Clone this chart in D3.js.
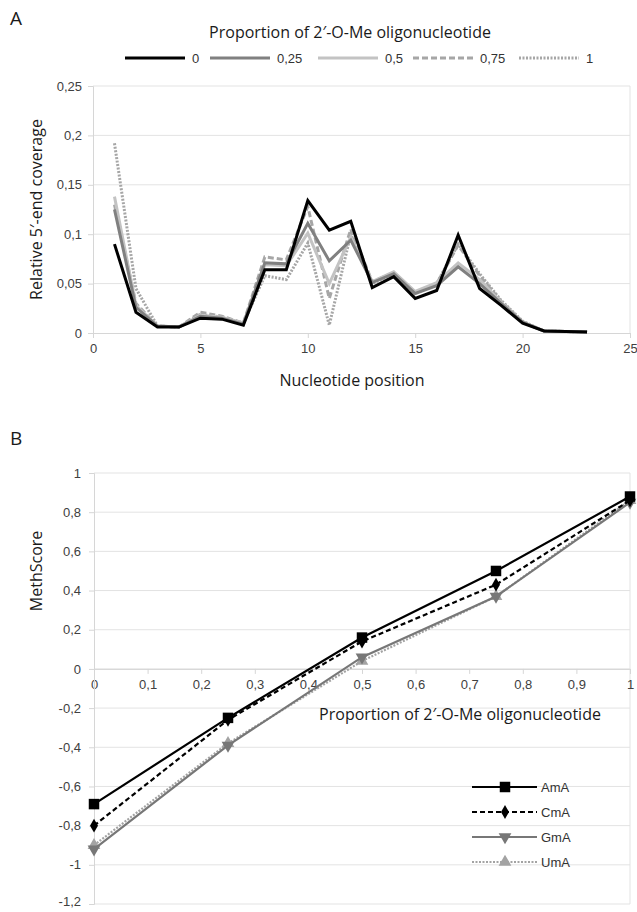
<!DOCTYPE html>
<html>
<head>
<meta charset="utf-8" />
<title>Coverage and MethScore</title>
<style>
body { margin: 0; background: #fff; }
.tick text { font-family: "Liberation Sans", Arial, sans-serif; font-size: 13px; fill: #404040; }
.title { font-family: "Open Sans", sans-serif; font-size: 16px; fill: #1a1a1a; }
.panel { font-family: "Open Sans", sans-serif; font-size: 19px; fill: #1a1a1a; }
.leg { font-family: "Liberation Sans", Arial, sans-serif; font-size: 13px; fill: #333; }
</style>
</head>
<body>
<div id="chart"></div>
<script src="https://d3js.org/d3.v7.min.js"></script>
<script>
(function(d3) {
'use strict';
// panel A: nucleotide positions and coverage per 2'-O-Me proportion
var positions = d3.range(1, 24);
var proportions = ['0', '0,25', '0,5', '0,75', '1'];
var cov0   = [0.090,0.021,0.006,0.006,0.015,0.014,0.008,0.064,0.064,0.134,0.104,0.113,0.046,0.057,0.035,0.043,0.099,0.045,0.028,0.010,0.002,0.0015,0.001];
var cov025 = [0.125,0.026,0.007,0.006,0.017,0.015,0.009,0.071,0.070,0.111,0.073,0.094,0.051,0.060,0.040,0.048,0.067,0.050,0.030,0.011,0.002,0.0015,0.001];
var cov05  = [0.138,0.028,0.007,0.006,0.018,0.016,0.010,0.069,0.068,0.101,0.050,0.097,0.052,0.062,0.042,0.051,0.071,0.054,0.031,0.011,0.002,0.0015,0.001];
var cov075 = [0.130,0.030,0.007,0.006,0.021,0.017,0.010,0.077,0.074,0.128,0.035,0.105,0.052,0.061,0.041,0.050,0.089,0.058,0.032,0.011,0.002,0.0015,0.001];
var cov1   = [0.192,0.045,0.007,0.006,0.019,0.016,0.010,0.058,0.054,0.091,0.008,0.100,0.050,0.060,0.040,0.050,0.090,0.060,0.033,0.012,0.002,0.0015,0.001];
var xTicksA = [0, 5, 10, 15, 20, 25];
var yTicksA = [0, 0.05, 0.1, 0.15, 0.2, 0.25];

// panel B: MethScore vs proportion
var propB = [0, 0.25, 0.5, 0.75, 1];
var seriesB = ['AmA', 'CmA', 'GmA', 'UmA'];
var amA = [-0.69, -0.25, 0.16, 0.50, 0.88];
var cmA = [-0.80, -0.26, 0.14, 0.43, 0.86];
var gmA = [-0.92, -0.39, 0.06, 0.37, 0.85];
var umA = [-0.90, -0.38, 0.04, 0.37, 0.86];
var xTicksB = d3.range(0, 11).map(function(i) { return i / 10; });
var yTicksB = d3.range(-6, 6).map(function(i) { return i / 5; });

var fmt = function(d) { return String(+d.toFixed(2)).replace('.', ','); };

var width = 637, height = 912;
var svg = d3.select('#chart').append('svg')
  .attr('width', width).attr('height', height);

// ---------- panel A ----------
var xA = d3.scaleLinear().domain([0, 25]).range([93, 630]);
var yA = d3.scaleLinear().domain([0, 0.25]).range([333, 86]);

svg.append('text').attr('class', 'panel').attr('x', 10).attr('y', 25).text('A');

var gA = svg.append('g');
gA.selectAll('line.grid').data(yTicksA.slice(1)).enter().append('line')
  .attr('x1', xA(0)).attr('x2', xA(25))
  .attr('y1', function(d) { return yA(d); }).attr('y2', function(d) { return yA(d); })
  .attr('stroke', '#e3e3e3');
gA.append('line').attr('x1', xA(25)).attr('x2', xA(25))
  .attr('y1', yA(0)).attr('y2', yA(0.25)).attr('stroke', '#e3e3e3');

var axA = gA.append('g').attr('transform', 'translate(0,' + yA(0) + ')')
  .call(d3.axisBottom(xA).tickValues(xTicksA).tickFormat(fmt).tickSize(5).tickPadding(6));
var ayA = gA.append('g').attr('transform', 'translate(' + xA(0) + ',0)')
  .call(d3.axisLeft(yA).tickValues(yTicksA).tickFormat(fmt).tickSize(5).tickPadding(6));
[axA, ayA].forEach(function(a) {
  a.select('.domain').attr('stroke', '#d6d6d6');
  a.selectAll('.tick line').attr('stroke', '#d6d6d6');
});

var covA = [cov0, cov025, cov05, cov075, cov1];
var styleA = [
  { color: '#000000', dash: null, w: 3 },
  { color: '#808080', dash: null, w: 3 },
  { color: '#c3c3c3', dash: null, w: 3 },
  { color: '#a6a6a6', dash: '6,3', w: 3 },
  { color: '#a6a6a6', dash: '2,1.5', w: 3 }
];
var lineA = d3.line()
  .x(function(d, i) { return xA(positions[i]); })
  .y(function(d) { return yA(d); });
for (var k = covA.length - 1; k >= 0; k--) {
  gA.append('path').datum(covA[k])
    .attr('d', lineA).attr('fill', 'none')
    .attr('stroke', styleA[k].color).attr('stroke-width', styleA[k].w)
    .attr('stroke-dasharray', styleA[k].dash)
    .attr('stroke-linejoin', 'miter');
}

svg.append('text').attr('class', 'title').attr('x', 350).attr('y', 38)
  .attr('text-anchor', 'middle').text('Proportion of 2\u2032-O-Me oligonucleotide');
var legX = [125, 210, 318, 413, 519];
proportions.forEach(function(p, i) {
  svg.append('line').attr('x1', legX[i]).attr('x2', legX[i] + 60)
    .attr('y1', 58).attr('y2', 58)
    .attr('stroke', styleA[i].color).attr('stroke-width', 3)
    .attr('stroke-dasharray', styleA[i].dash);
  svg.append('text').attr('class', 'leg').attr('x', legX[i] + 67).attr('y', 63).text(p);
});

svg.append('text').attr('class', 'title')
  .attr('transform', 'translate(42,' + (yA(0.125)) + ') rotate(-90)')
  .attr('text-anchor', 'middle').text('Relative 5\u2032-end coverage');
svg.append('text').attr('class', 'title').attr('x', 352).attr('y', 386)
  .attr('text-anchor', 'middle').text('Nucleotide position');

// ---------- panel B ----------
var xB = d3.scaleLinear().domain([0, 1]).range([94, 630]);
var yB = d3.scaleLinear().domain([-1.2, 1]).range([904, 473]);

svg.append('text').attr('class', 'panel').attr('x', 10).attr('y', 445).text('B');

var gB = svg.append('g');
gB.selectAll('line.grid').data(yTicksB).enter().append('line')
  .attr('x1', xB(0)).attr('x2', xB(1))
  .attr('y1', function(d) { return yB(d); }).attr('y2', function(d) { return yB(d); })
  .attr('stroke', '#e3e3e3');
gB.append('line').attr('x1', xB(1)).attr('x2', xB(1))
  .attr('y1', yB(-1.2)).attr('y2', yB(1)).attr('stroke', '#e3e3e3');

var axB = gB.append('g').attr('transform', 'translate(0,' + yB(0) + ')')
  .call(d3.axisBottom(xB).tickValues(xTicksB).tickFormat(fmt).tickSize(5).tickPadding(6));
var ayB = gB.append('g').attr('transform', 'translate(' + xB(0) + ',0)')
  .call(d3.axisLeft(yB).tickValues(yTicksB).tickFormat(fmt).tickSize(5).tickPadding(8));
[axB, ayB].forEach(function(a) {
  a.select('.domain').attr('stroke', '#d6d6d6');
  a.selectAll('.tick line').attr('stroke', '#d6d6d6');
});
ayB.selectAll('.tick text').attr('dy', function(d) { return d === -1.2 ? '0.1em' : '0.32em'; });

var valsB = [amA, cmA, gmA, umA];
var styleB = [
  { color: '#000000', dash: null, w: 2.2, sym: d3.symbolSquare, size: 110, rot: 0 },
  { color: '#000000', dash: '5,3', w: 2.2, sym: d3.symbolDiamond, size: 55, rot: 0 },
  { color: '#777777', dash: null, w: 2.2, sym: d3.symbolTriangle, size: 70, rot: 180 },
  { color: '#a3a3a3', dash: '2,1.5', w: 2.2, sym: d3.symbolTriangle, size: 70, rot: 0 }
];
var lineB = d3.line()
  .x(function(d, i) { return xB(propB[i]); })
  .y(function(d) { return yB(d); });
for (var j = valsB.length - 1; j >= 0; j--) {
  var st = styleB[j];
  gB.append('path').datum(valsB[j]).attr('d', lineB).attr('fill', 'none')
    .attr('stroke', st.color).attr('stroke-width', st.w)
    .attr('stroke-dasharray', st.dash);
  gB.selectAll(null).data(valsB[j]).enter().append('path')
    .attr('d', d3.symbol().type(st.sym).size(st.size))
    .attr('transform', function(d, i) {
      return 'translate(' + xB(propB[i]) + ',' + yB(d) + ') rotate(' + st.rot + ')';
    })
    .attr('fill', st.color);
}

svg.append('text').attr('class', 'title').attr('x', 460).attr('y', 720)
  .attr('text-anchor', 'middle').text('Proportion of 2\u2032-O-Me oligonucleotide');
svg.append('text').attr('class', 'title')
  .attr('transform', 'translate(42,' + yB(0.5) + ') rotate(-90)')
  .attr('text-anchor', 'middle').text('MethScore');

seriesB.forEach(function(s, i) {
  var ly = 787 + i * 25, st = styleB[i];
  svg.append('line').attr('x1', 472).attr('x2', 537).attr('y1', ly).attr('y2', ly)
    .attr('stroke', st.color).attr('stroke-width', st.w).attr('stroke-dasharray', st.dash);
  svg.append('path').attr('d', d3.symbol().type(st.sym).size(st.size)())
    .attr('transform', 'translate(505,' + ly + ') rotate(' + st.rot + ')')
    .attr('fill', st.color);
  svg.append('text').attr('class', 'leg').attr('x', 541).attr('y', ly + 5).text(s);
});
})(window.d3);
</script>
</body>
</html>
